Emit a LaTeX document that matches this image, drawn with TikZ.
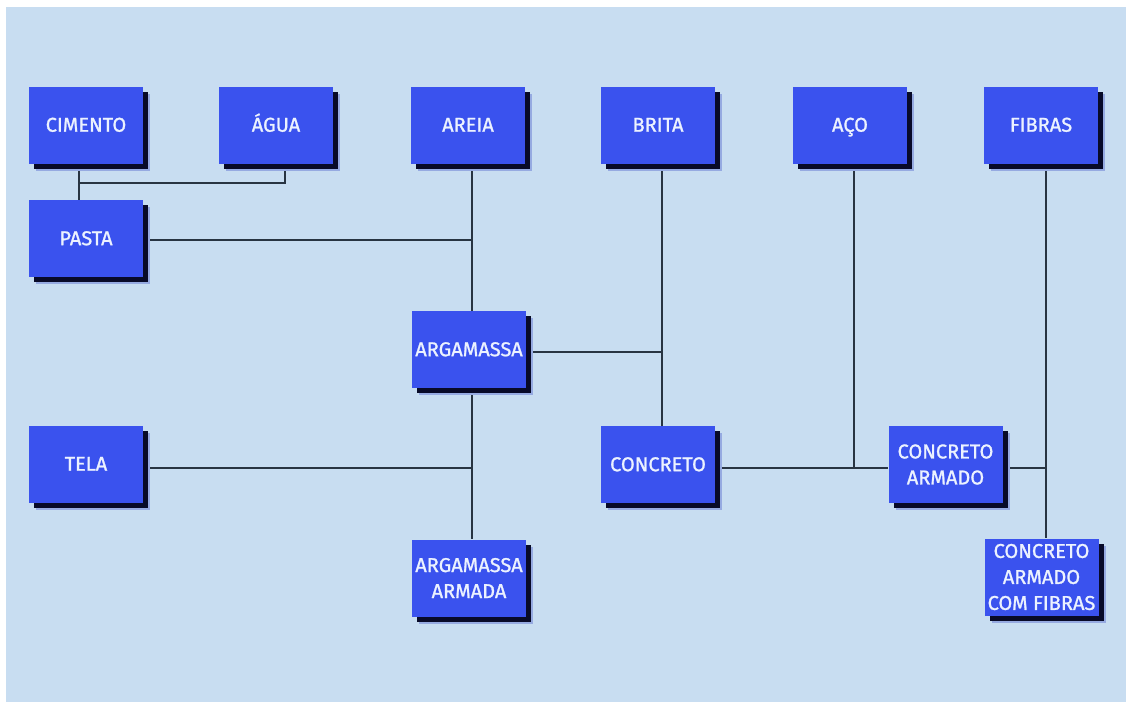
\documentclass[tikz,border=0pt]{standalone}
\usepackage{fontspec}
\setmainfont{Fira Sans}[BoldFont={Fira Sans},BoldFeatures={FakeBold=1.2}]
\usetikzlibrary{shadows,backgrounds}
\definecolor{fundo}{RGB}{200,221,241}
\definecolor{caixa}{RGB}{58,82,238}
\definecolor{sombra}{RGB}{8,10,40}
\definecolor{halo}{RGB}{150,170,225}
\definecolor{linha}{RGB}{40,52,66}
\definecolor{letra}{RGB}{236,242,255}
\newcommand{\umalinha}[1]{\vphantom{ÁÇ}#1}
\begin{document}
\begin{tikzpicture}[x=1pt,y=-1pt,every node/.style={font=\fontsize{20}{26}\selectfont\bfseries},
        bx/.style={rectangle,fill=caixa,text=letra,minimum width=114pt,minimum height=77pt,
            inner sep=0,align=center,
            drop shadow={shadow xshift=7pt,shadow yshift=-7pt,fill=halo,opacity=1},
            drop shadow={shadow xshift=5pt,shadow yshift=-5pt,fill=sombra,opacity=1}},
        ln/.style={draw=linha,line width=1.4pt}]
        \useasboundingbox (0,0) rectangle (1126,702);
        \foreach \x/\n/\t in {86/cimento/CIMENTO,276/agua/ÁGUA,468/areia/AREIA,
                658/brita/BRITA,850/aco/AÇO,1041/fibras/FIBRAS}{
            \node[bx] (\n) at (\x,125) {\umalinha{\t}};
        }
        \node[bx] (pasta) at (86,238.5) {\umalinha{PASTA}};
        \node[bx] (argamassa) at (469,349.5) {\umalinha{ARGAMASSA}};
        \node[bx] (tela) at (86,464) {\umalinha{TELA}};
        \node[bx] (concreto) at (658,464.5) {\umalinha{CONCRETO}};
        \node[bx] (armado) at (945.5,464.5) {CONCRETO\\ARMADO};
        \node[bx] (argarmada) at (469,578) {ARGAMASSA\\ARMADA};
        \node[bx] (fibrado) at (1041.5,577) {CONCRETO\\ARMADO\\COM FIBRAS};
        \begin{scope}[on background layer]
            \fill[fundo] (6,7) rectangle (1126,702);
            \coordinate (jpasta) at (79,183);
            \coordinate (xareia) at (472,0);
            \coordinate (xbrita) at (662,0);
            \coordinate (xaco) at (854,0);
            \coordinate (xfibras) at (1046,0);
            \coordinate (ylinha) at (0,468);
            \draw[ln] ([xshift=-7pt]cimento.south) -- ([xshift=-7pt]pasta.north);
            \draw[ln] ([xshift=9pt]agua.south) |- (jpasta);
            \draw[ln] (areia.south -| xareia) -- (argamassa.north -| xareia);
            \draw[ln] ([yshift=-1.5pt]pasta.east) -- ([yshift=-1.5pt]pasta.east -| xareia);
            \draw[ln] (argamassa.south -| xareia) -- (argarmada.north -| xareia);
            \draw[ln] ([yshift=-2.5pt]argamassa.east) -- ([yshift=-2.5pt]argamassa.east -| xbrita);
            \draw[ln] (brita.south -| xbrita) -- (concreto.north -| xbrita);
            \draw[ln] (tela.east |- ylinha) -- (ylinha -| xareia);
            \draw[ln] (concreto.east |- ylinha) -- (armado.west |- ylinha);
            \draw[ln] (aco.south -| xaco) -- (ylinha -| xaco);
            \draw[ln] (armado.east |- ylinha) -- (ylinha -| xfibras);
            \draw[ln] (fibras.south -| xfibras) -- (fibrado.north -| xfibras);
        \end{scope}
    \end{tikzpicture}
\end{document}
